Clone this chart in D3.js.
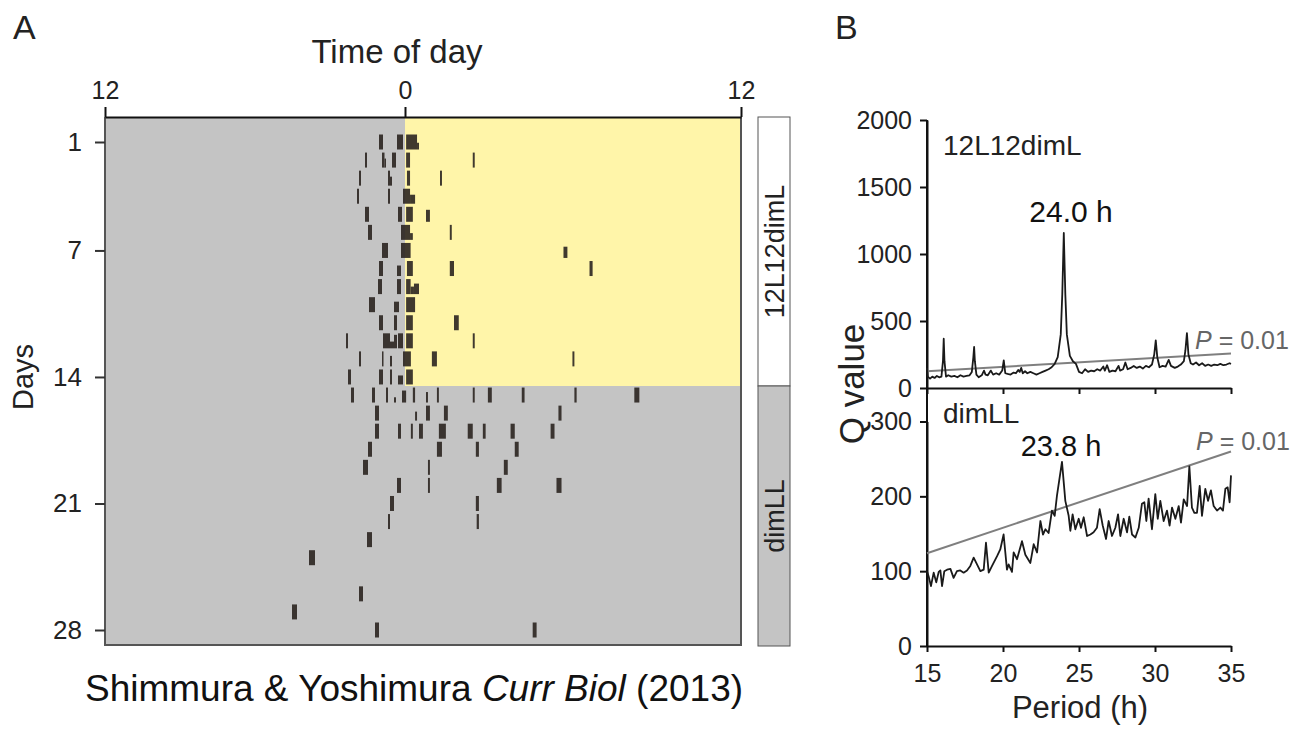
<!DOCTYPE html>
<html>
<head>
<meta charset="utf-8">
<script src="https://cdn.jsdelivr.net/npm/d3@7"></script>
<style>
  body { margin: 0; background: #fff; }
  svg { display: block; font-family: 'Liberation Sans', Arial, sans-serif; }
  .axis text { fill: #222; }
</style>
</head>
<body>
<script>
// ---- panel A: actogram ----
// light schedule blocks (days)
const phaseLabels = ['12L12dimL', 'dimLL'];
const phaseDays = [[1, 14], [15, 28]];
const dayTicks = [1, 7, 14, 21, 28];
const hourTicks = [-12, 0, 12];

// activity bouts: [day, start hour, end hour, height fraction]
const bouts = [
  [1, -1.04, -0.88, 1], [1, -0.32, -0.08, 1], [1, 0.04, 0.43, 1], [1, 0.43, 0.5, 0.45],
  [2, -1.6, -1.52, 1], [2, -0.92, -0.82, 1], [2, -0.82, -0.78, 0.6], [2, -0.52, -0.36, 1], [2, 0.04, 0.18, 1], [2, 2.42, 2.49, 1],
  [3, -1.84, -1.76, 1], [3, -0.68, -0.6, 1], [3, -0.6, -0.52, 0.6], [3, 0.07, 0.18, 1], [3, 1.25, 1.32, 1],
  [4, -1.92, -1.84, 1], [4, -0.68, -0.6, 1], [4, -0.08, 0.18, 1], [4, 0.18, 0.36, 0.6],
  [5, -1.6, -1.44, 1], [5, -0.28, -0.12, 1], [5, 0.04, 0.28, 1], [5, 0.75, 0.89, 0.8],
  [6, -1.48, -1.32, 1], [6, -0.16, 0.18, 1], [6, 0.18, 0.28, 0.45], [6, 1.6, 1.67, 1],
  [7, -0.92, -0.68, 1], [7, -0.16, 0.2, 1], [7, 5.66, 5.8, 0.75],
  [8, -1.04, -0.88, 1], [8, -0.32, -0.16, 0.7], [8, 0.07, 0.28, 1], [8, 1.6, 1.75, 1], [8, 6.59, 6.7, 1],
  [9, -1.08, -0.92, 1], [9, -0.32, -0.16, 1], [9, 0.04, 0.2, 1], [9, 0.2, 0.32, 0.5], [9, 0.32, 0.5, 0.7],
  [10, -1.44, -1.2, 1], [10, -0.44, -0.24, 0.7], [10, 0.04, 0.36, 1],
  [11, -1.04, -0.88, 1], [11, -0.44, -0.32, 1], [11, 0.04, 0.28, 1], [11, 1.75, 1.92, 1],
  [12, -2.36, -2.28, 1], [12, -0.88, -0.6, 1], [12, -0.6, -0.44, 0.45], [12, -0.44, -0.32, 0.9], [12, -0.28, -0.08, 1], [12, 0.04, 0.28, 1], [12, 2.42, 2.49, 1],
  [13, -1.84, -1.76, 1], [13, -0.92, -0.88, 1], [13, -0.6, -0.52, 0.7], [13, -0.08, 0.21, 1], [13, 0.96, 1.14, 1], [13, 5.98, 6.05, 1],
  [14, -2.28, -2.16, 1], [14, -1.04, -0.88, 1], [14, -0.6, -0.52, 1], [14, -0.28, -0.08, 0.6], [14, 0.04, 0.28, 1],
  [15, -2.16, -2.04, 1], [15, -1.32, -1.2, 1], [15, -0.76, -0.68, 1], [15, -0.44, -0.36, 0.35], [15, -0.12, 0.04, 0.8], [15, 0.28, 0.36, 1],
  [15, 0.75, 0.82, 0.7], [15, 1.14, 1.21, 1], [15, 2.42, 2.49, 1], [15, 2.96, 3.1, 1], [15, 4.17, 4.27, 1], [15, 6.05, 6.13, 1], [15, 8.19, 8.37, 1],
  [16, -1.2, -1.04, 1], [16, 0.36, 0.43, 0.6], [16, 0.75, 0.89, 1], [16, 1.39, 1.53, 1], [16, 5.48, 5.59, 1],
  [17, -1.2, -1.04, 1], [17, -0.28, -0.16, 1], [17, 0.21, 0.28, 1], [17, 0.5, 0.64, 1], [17, 1.21, 1.46, 1],
  [17, 2.24, 2.42, 1], [17, 2.78, 2.88, 1], [17, 3.77, 3.92, 1], [17, 5.2, 5.34, 1],
  [18, -1.48, -1.32, 1], [18, 1.14, 1.32, 1], [18, 2.53, 2.64, 1], [18, 3.92, 4.06, 1],
  [19, -1.68, -1.48, 1], [19, 0.82, 0.89, 1], [19, 3.53, 3.67, 1],
  [20, -0.32, -0.16, 1], [20, 0.82, 0.89, 1], [20, 3.28, 3.45, 1], [20, 5.41, 5.59, 1],
  [21, -0.6, -0.44, 1], [21, 2.53, 2.64, 1],
  [22, -0.68, -0.6, 1], [22, 2.56, 2.64, 1],
  [23, -1.52, -1.32, 1],
  [24, -3.84, -3.6, 1],
  [26, -1.84, -1.68, 1],
  [27, -4.52, -4.32, 1],
  [28, -1.2, -1.04, 1], [28, 4.56, 4.7, 1]
];

// ---- panel B: periodograms (period h, Q value) ----
const periodTicks = [15, 20, 25, 30, 35];
const qTicksLD = [0, 500, 1000, 1500, 2000];
const qTicksLL = [0, 100, 200, 300];
const peakLabels = ['24.0 h', '23.8 h'];
const sigLD = [[15, 125], [35, 258]];
const sigLL = [[15, 124], [35, 260]];

const qLD = [
  [15.0, 150], [15.05, 85], [15.2, 70], [15.35, 85], [15.5, 75], [15.65, 90], [15.8, 80], [15.95, 85],
  [16.05, 200], [16.1, 368], [16.15, 200], [16.25, 85], [16.4, 95], [16.6, 85], [16.8, 90], [17.0, 80],
  [17.2, 95], [17.4, 85], [17.6, 90], [17.8, 95], [17.95, 120], [18.05, 230], [18.1, 306], [18.15, 200],
  [18.25, 100], [18.4, 80], [18.6, 95], [18.75, 130], [18.85, 100], [19.0, 95], [19.2, 130], [19.35, 100],
  [19.55, 110], [19.75, 100], [19.95, 130], [20.05, 206], [20.15, 110], [20.3, 105], [20.5, 100], [20.7, 115],
  [20.85, 110], [21.0, 135], [21.1, 120], [21.2, 150], [21.3, 110], [21.45, 125], [21.6, 110], [21.8, 120],
  [22.0, 110], [22.2, 100], [22.4, 110], [22.6, 120], [22.8, 130], [23.0, 140], [23.2, 155], [23.4, 180],
  [23.6, 230], [23.8, 400], [23.9, 700], [24.0, 1157], [24.1, 700], [24.2, 400], [24.4, 240], [24.6, 200],
  [24.8, 180], [25.0, 120], [25.2, 110], [25.4, 140], [25.6, 120], [25.8, 130], [26.0, 125], [26.2, 140],
  [26.4, 130], [26.6, 160], [26.7, 130], [26.85, 170], [27.0, 120], [27.2, 130], [27.4, 125], [27.6, 165],
  [27.7, 130], [27.9, 140], [28.05, 190], [28.2, 140], [28.4, 150], [28.6, 165], [28.8, 150], [29.0, 160],
  [29.2, 145], [29.4, 165], [29.6, 155], [29.8, 175], [29.95, 250], [30.05, 356], [30.15, 230], [30.3, 155],
  [30.5, 165], [30.7, 160], [30.9, 210], [31.05, 165], [31.3, 150], [31.5, 160], [31.7, 175], [31.9, 200],
  [32.0, 280], [32.1, 410], [32.2, 250], [32.35, 185], [32.5, 175], [32.7, 190], [32.9, 170], [33.1, 185],
  [33.3, 165], [33.5, 175], [33.7, 165], [33.9, 175], [34.1, 170], [34.3, 180], [34.5, 170], [34.7, 175],
  [34.9, 185], [35.0, 180]
];

const qLL = [
  [15.0, 100], [15.11, 93], [15.26, 80], [15.44, 98], [15.61, 85], [15.77, 99], [15.88, 101], [15.99, 80],
  [16.14, 100], [16.32, 102], [16.54, 103], [16.75, 91], [16.97, 100], [17.19, 101], [17.41, 98], [17.63, 101],
  [17.85, 107], [18.07, 118], [18.29, 109], [18.51, 100], [18.73, 102], [18.88, 138], [19.06, 98], [19.28, 107],
  [19.61, 120], [19.82, 129], [20.04, 149], [20.26, 102], [20.37, 109], [20.59, 99], [20.7, 125], [20.92, 116],
  [21.25, 140], [21.47, 122], [21.8, 111], [22.02, 136], [22.24, 125], [22.46, 167], [22.63, 149], [22.79, 156],
  [23.0, 151], [23.22, 181], [23.4, 174], [23.55, 201], [23.88, 246], [24.1, 194], [24.32, 174], [24.43, 154],
  [24.58, 176], [24.76, 156], [24.98, 170], [25.13, 158], [25.31, 172], [25.53, 147], [25.75, 149], [25.96, 152],
  [26.18, 158], [26.36, 183], [26.56, 161], [26.78, 143], [26.95, 167], [27.17, 147], [27.39, 158], [27.57, 176],
  [27.72, 147], [27.94, 170], [28.16, 152], [28.31, 173], [28.49, 149], [28.71, 145], [28.93, 158], [29.14, 190],
  [29.3, 192], [29.43, 167], [29.58, 197], [29.8, 156], [30.02, 203], [30.18, 170], [30.35, 194], [30.57, 167],
  [30.79, 181], [30.96, 161], [31.12, 185], [31.34, 170], [31.56, 187], [31.71, 165], [31.89, 196], [32.11, 187],
  [32.26, 240], [32.43, 185], [32.59, 178], [32.76, 178], [32.94, 214], [33.09, 174], [33.31, 210], [33.49, 194],
  [33.68, 208], [33.86, 187], [34.08, 181], [34.3, 185], [34.47, 181], [34.63, 210], [34.78, 212], [34.91, 192],
  [35.0, 228]
];

const W = 1295, H = 731;
const GRAY = '#c4c4c4', YELLOW = '#fff5a9', INK = '#222';
const FONT = 'Liberation Sans, Arial, sans-serif';

const svg = d3.select('body').append('svg')
  .attr('width', W)
  .attr('height', H);

// ===== Panel A =====
const x = d3.scaleLinear().domain([-12, 0, 12]).range([105, 405, 741]);
const y = d3.scaleLinear().domain([1, 28]).range([142, 630]);
const rowH = 15;
const plotTop = 117, plotBottom = 645;
const dayEdge = d => (y(d) + y(d + 1)) / 2;

svg.append('text').attr('x', 13).attr('y', 39)
  .attr('font-size', 34).attr('fill', INK).text('A');

svg.append('rect')
  .attr('x', x(-12)).attr('y', plotTop)
  .attr('width', x(12) - x(-12)).attr('height', plotBottom - plotTop)
  .attr('fill', GRAY);

// lit phase of the 12L12dimL schedule
svg.append('rect')
  .attr('x', x(0)).attr('y', plotTop)
  .attr('width', x(12) - x(0)).attr('height', dayEdge(phaseDays[0][1]) - plotTop)
  .attr('fill', YELLOW);

svg.append('g')
  .selectAll('rect')
  .data(bouts)
  .enter().append('rect')
  .attr('x', d => x(d[1]))
  .attr('width', d => Math.max(1.5, x(d[2]) - x(d[1])))
  .attr('y', d => y(d[0]) + rowH / 2 - rowH * d[3])
  .attr('height', d => rowH * d[3])
  .attr('fill', '#2b2520')
  .attr('fill-opacity', 0.9);

// frame
svg.append('path')
  .attr('d', `M${x(-12)},${plotTop}V${plotBottom}H${x(12)}V${plotTop}`)
  .attr('fill', 'none').attr('stroke', '#555').attr('stroke-width', 2);

const topAxis = svg.append('g')
  .attr('class', 'axis')
  .attr('transform', `translate(0,${plotTop})`)
  .call(d3.axisTop(x).tickValues(hourTicks).tickFormat(d => Math.abs(d))
    .tickSize(10).tickSizeOuter(0).tickPadding(8));
topAxis.selectAll('text').attr('font-size', 25).attr('font-family', FONT);
topAxis.selectAll('line, path').attr('stroke', '#111').attr('stroke-width', 2);

const dayAxis = svg.append('g')
  .attr('class', 'axis')
  .attr('transform', `translate(${x(-12)},0)`)
  .call(d3.axisLeft(y).tickValues(dayTicks).tickSize(10).tickPadding(13));
dayAxis.select('.domain').remove();
dayAxis.selectAll('text').attr('font-size', 26).attr('font-family', FONT);
dayAxis.selectAll('line').attr('stroke', '#333').attr('stroke-width', 2);

svg.append('text')
  .attr('x', 397).attr('y', 63)
  .attr('text-anchor', 'middle').attr('font-size', 33).attr('fill', INK)
  .text('Time of day');

svg.append('text')
  .attr('transform', 'translate(33,377) rotate(-90)')
  .attr('text-anchor', 'middle').attr('font-size', 29).attr('fill', INK)
  .text('Days');

// schedule bar at the right
const side = svg.append('g');
phaseLabels.forEach((lab, i) => {
  const y0 = i === 0 ? plotTop : dayEdge(phaseDays[i][0] - 1);
  const y1 = i === phaseLabels.length - 1 ? plotBottom + 1 : dayEdge(phaseDays[i][1]);
  side.append('rect')
    .attr('x', 758).attr('y', y0)
    .attr('width', 32).attr('height', y1 - y0)
    .attr('fill', i === 0 ? '#fff' : GRAY)
    .attr('stroke', '#555').attr('stroke-width', 1);
  side.append('text')
    .attr('transform', `translate(774,${(y0 + y1) / 2}) rotate(-90)`)
    .attr('text-anchor', 'middle').attr('dy', '0.36em')
    .attr('font-size', 27).attr('fill', INK)
    .text(lab);
});

const cite = svg.append('text')
  .attr('x', 414).attr('y', 701)
  .attr('text-anchor', 'middle').attr('font-size', 37).attr('fill', '#111');
cite.append('tspan').text('Shimmura & Yoshimura ');
cite.append('tspan').attr('font-style', 'italic').text('Curr Biol');
cite.append('tspan').text(' (2013)');

// ===== Panel B =====
svg.append('text').attr('x', 835).attr('y', 39)
  .attr('font-size', 34).attr('fill', INK).text('B');

const px = d3.scaleLinear().domain([15, 35]).range([927, 1231]);
const yLD = d3.scaleLinear().domain([0, 2000]).range([388, 120]);
const yLL = d3.scaleLinear().domain([0, 300]).range([646, 421.5]);

function styleAxis(g) {
  g.selectAll('text').attr('font-size', 25).attr('font-family', FONT);
  g.selectAll('line, path').attr('stroke', '#111').attr('stroke-width', 2);
}

svg.append('g').attr('class', 'axis')
  .attr('transform', `translate(${px(15)},0)`)
  .call(d3.axisLeft(yLD).tickValues(qTicksLD).tickFormat(d3.format('d'))
    .tickSize(7).tickSizeOuter(0).tickPadding(8))
  .call(styleAxis);

svg.append('g').attr('class', 'axis')
  .attr('transform', `translate(${px(15)},0)`)
  .call(d3.axisLeft(yLL).tickValues(qTicksLL).tickFormat(d3.format('d'))
    .tickSize(7).tickSizeOuter(0).tickPadding(8))
  .call(styleAxis);

// continuous y spine
svg.append('line')
  .attr('x1', px(15)).attr('x2', px(15))
  .attr('y1', yLD(2000)).attr('y2', yLL(0))
  .attr('stroke', '#111').attr('stroke-width', 2);

svg.append('g').attr('class', 'axis')
  .attr('transform', `translate(0,${yLD(0)})`)
  .call(d3.axisBottom(px).tickValues(periodTicks).tickFormat('').tickSize(6).tickSizeOuter(0))
  .call(styleAxis);

svg.append('g').attr('class', 'axis')
  .attr('transform', `translate(0,${yLL(0)})`)
  .call(d3.axisBottom(px).tickValues(periodTicks).tickSize(6).tickSizeOuter(0).tickPadding(12))
  .call(styleAxis);

const sigLineLD = d3.line().x(d => px(d[0])).y(d => yLD(d[1]));
const sigLineLL = d3.line().x(d => px(d[0])).y(d => yLL(d[1]));

svg.append('path').datum(sigLD).attr('d', sigLineLD)
  .attr('fill', 'none').attr('stroke', '#7f7f7f').attr('stroke-width', 2);
svg.append('path').datum(qLD).attr('d', sigLineLD)
  .attr('fill', 'none').attr('stroke', '#1a1a1a').attr('stroke-width', 1.8)
  .attr('stroke-linejoin', 'round');

svg.append('path').datum(sigLL).attr('d', sigLineLL)
  .attr('fill', 'none').attr('stroke', '#7f7f7f').attr('stroke-width', 2);
svg.append('path').datum(qLL).attr('d', sigLineLL)
  .attr('fill', 'none').attr('stroke', '#1a1a1a').attr('stroke-width', 1.8)
  .attr('stroke-linejoin', 'round');

// panel texts
svg.append('text').attr('x', 943).attr('y', 155)
  .attr('font-size', 28).attr('fill', INK).text(phaseLabels[0]);
svg.append('text').attr('x', 943).attr('y', 423)
  .attr('font-size', 28).attr('fill', INK).text(phaseLabels[1]);

svg.append('text').attr('x', 1071).attr('y', 222)
  .attr('text-anchor', 'middle').attr('font-size', 30).attr('fill', '#111').text(peakLabels[0]);
svg.append('text').attr('x', 1061).attr('y', 456)
  .attr('text-anchor', 'middle').attr('font-size', 29).attr('fill', '#111').text(peakLabels[1]);

function pLabel(xp, yp) {
  const t = svg.append('text').attr('x', xp).attr('y', yp)
    .attr('font-size', 25).attr('fill', '#666');
  t.append('tspan').attr('font-style', 'italic').text('P');
  t.append('tspan').text(' = 0.01');
}
pLabel(1195, 349);
pLabel(1196, 450);

svg.append('text')
  .attr('transform', 'translate(864,384) rotate(-90)')
  .attr('text-anchor', 'middle').attr('font-size', 35).attr('fill', INK)
  .text('Q value');

svg.append('text')
  .attr('x', 1080).attr('y', 718)
  .attr('text-anchor', 'middle').attr('font-size', 31).attr('fill', INK)
  .text('Period (h)');
</script>
</body>
</html>
